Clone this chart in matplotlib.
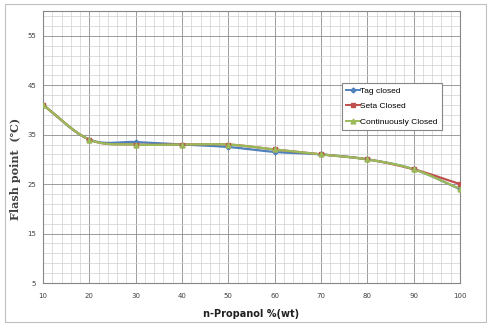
import numpy as np
import matplotlib
matplotlib.use("Agg")
import matplotlib.pyplot as plt
from matplotlib.patches import Rectangle

# Flash point of n-propanol / water mixtures by three closed-cup methods
propanol_wt = [10, 20, 30, 40, 50, 60, 70, 80, 90, 100]
tag_closed = [41, 34, 33.5, 33, 32.5, 31.5, 31, 30, 28, 24]
seta_closed = [41, 34, 33, 33, 33, 32, 31, 30, 28, 25]
continuously_closed = [41, 34, 33, 33, 33, 32, 31, 30, 28, 24]
y_ticks = [5, 15, 25, 35, 45, 55]
x_ticks = [10, 20, 30, 40, 50, 60, 70, 80, 90, 100]


def smooth(x, y, n=20):
    """Catmull-Rom curve through the points (spreadsheet-style smoothed line)."""
    x = np.asarray(x, float)
    y = np.asarray(y, float)
    px = np.concatenate([[2 * x[0] - x[1]], x, [2 * x[-1] - x[-2]]])
    py = np.concatenate([[2 * y[0] - y[1]], y, [2 * y[-1] - y[-2]]])
    xs, ys = [], []
    t = np.linspace(0, 1, n, endpoint=False)
    for i in range(1, len(px) - 2):
        for p, out in ((px, xs), (py, ys)):
            p0, p1, p2, p3 = p[i - 1], p[i], p[i + 1], p[i + 2]
            out.extend(0.5 * ((2 * p1) + (-p0 + p2) * t
                              + (2 * p0 - 5 * p1 + 4 * p2 - p3) * t ** 2
                              + (-p0 + 3 * p1 - 3 * p2 + p3) * t ** 3))
    xs.append(x[-1])
    ys.append(y[-1])
    return np.array(xs), np.array(ys)


fig = plt.figure(figsize=(4.87, 3.26), dpi=100)
fig.patches.append(Rectangle((5 / 487, 4 / 326), 481 / 487, 318 / 326,
                             transform=fig.transFigure, fill=False,
                             edgecolor="#BFBFBF", linewidth=0.8))
ax = fig.add_axes([43 / 487, 43 / 326, 417 / 487, 272 / 326])

ax.set_xlim(10, 100)
ax.set_ylim(5, 60)
ax.set_xticks(x_ticks)
ax.set_yticks(y_ticks)
ax.set_xticks(np.arange(10, 101, 2), minor=True)
ax.set_yticks(np.arange(5, 61, 2), minor=True)
ax.grid(which="major", color="#8C8C8C", linewidth=0.6)
ax.grid(which="minor", color="#D0D0D0", linewidth=0.5)
ax.set_axisbelow(True)
ax.tick_params(which="both", length=0, labelsize=5, colors="#404040")
ax.tick_params(axis="x", pad=7)
ax.tick_params(axis="y", pad=5)
for s in ax.spines.values():
    s.set_color("#868686")
    s.set_linewidth(0.8)

series = [
    ("Tag closed", tag_closed, "#4F81BD", "D", 2.5),
    ("Seta Closed", seta_closed, "#C0504D", "s", 3.5),
    ("Continuously Closed", continuously_closed, "#9BBB59", "^", 3.5),
]
for label, vals, color, marker, ms in series:
    sx, sy = smooth(propanol_wt, vals)
    ax.plot(sx, sy, color=color, linewidth=1.6, zorder=3)
    ax.plot(propanol_wt, vals, linestyle="none", marker=marker,
            color=color, markersize=ms, zorder=4)
    ax.plot([], [], color=color, marker=marker, markersize=ms,
            linewidth=1.4, label=label)

leg = ax.legend(loc="upper left", bbox_to_anchor=(299 / 417, 1 - 72 / 272),
                prop={"family": "Liberation Sans", "size": 6.0},
                frameon=True, fancybox=False,
                handlelength=1.6, handletextpad=0.1, labelspacing=0.9,
                borderpad=0.5, borderaxespad=0)
leg.get_frame().set_edgecolor("#868686")
leg.get_frame().set_linewidth(0.8)
leg.get_frame().set_alpha(1)

ax.set_xlabel("n-Propanol %(wt)", fontsize=7, fontweight="bold",
              color="#202020")
ax.xaxis.set_label_coords(0.5, -0.095)
ax.set_ylabel("Flash point  (\u2103)", fontsize=8, fontweight="bold",
              color="#404040", family=["DejaVu Serif", "Noto Sans CJK SC"])
ax.yaxis.set_label_coords(-0.053, 0.42)

fig.savefig("out.png", dpi=100)
